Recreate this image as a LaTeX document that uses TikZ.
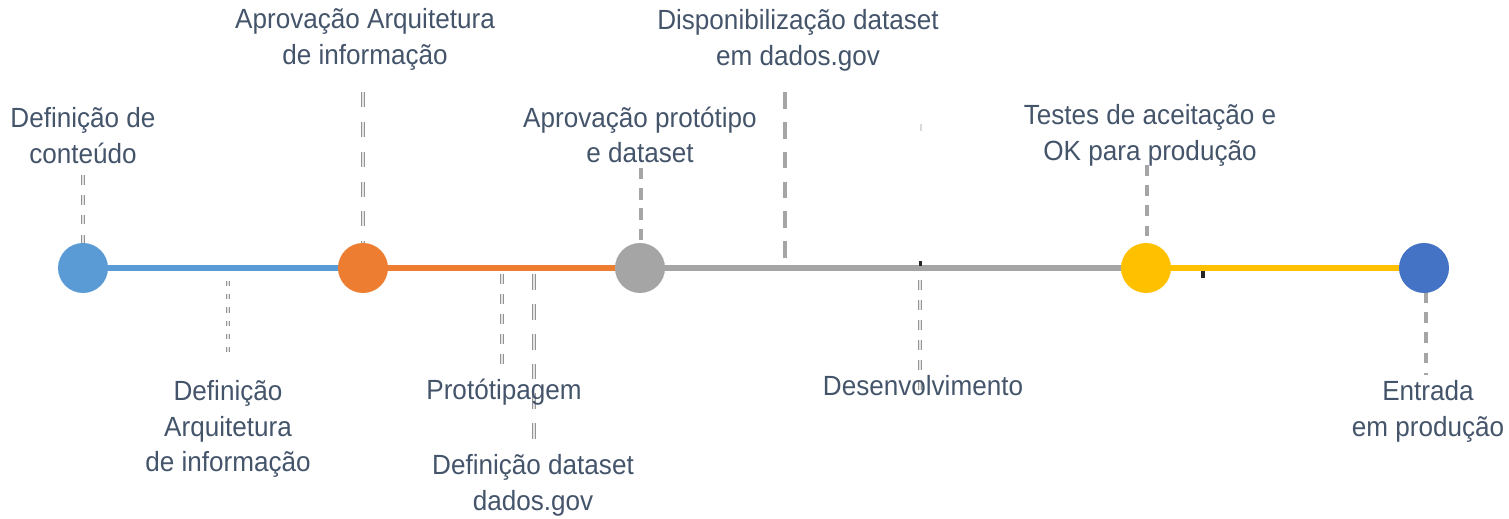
\documentclass[tikz,border=0pt]{standalone}
\usepackage{fontspec}
\setmainfont[FakeStretch=0.94]{Liberation Sans}
\definecolor{txt}{HTML}{44546A}
\definecolor{dgray}{HTML}{A5A5A5}
\definecolor{cblue}{HTML}{5B9BD5}
\definecolor{corange}{HTML}{ED7D31}
\definecolor{cgray}{HTML}{A5A5A5}
\definecolor{cgold}{HTML}{FFC000}
\definecolor{cdblue}{HTML}{4472C4}
\tikzset{
  dot/.style={circle, minimum size=50*0.02cm, inner sep=0pt, fill=#1},
  seg/.style={draw=#1, line width=3.4pt},
  lbl/.style={text=txt, align=center, inner sep=0pt, font=\fontsize{15.8}{20.4}\selectfont},
  sdash/.style={draw=dgray, line width=2.3pt},
  hdash/.style={draw=dgray!90!black, line width=0.75pt, double=dgray!30, double distance=1.0pt},
  hsmall/.style={draw=dgray!90!black, line width=0.65pt, double=dgray!30, double distance=0.8pt},
}
\begin{document}
\begin{tikzpicture}[x=0.02cm, y=-0.02cm]
\useasboundingbox (0,0) rectangle (1509,519);
% coordinates of circles
\coordinate (p1) at (83,268);
\coordinate (p2) at (363,268);
\coordinate (p3) at (640,268);
\coordinate (p4) at (1146,268);
\coordinate (p5) at (1424,268);
% main line segments
\draw[seg=cblue] (p1) -- (p2);
\draw[seg=corange] (p2) -- (p3);
\draw[seg=cgray] (p3) -- (p4);
\draw[seg=cgold] (p4) -- (p5);
% dashed leaders
\coordinate (a1) at (83,175);   \coordinate (b1) at (83,245);
\coordinate (a2) at (363,92);   \coordinate (b2) at (363,245);
\coordinate (a3) at (228,281);  \coordinate (b3) at (228,355);
\coordinate (a4) at (502,274);  \coordinate (b4) at (502,368);
\coordinate (a5) at (534,274);  \coordinate (b5) at (534,445);
\coordinate (a6) at (641,168);  \coordinate (b6) at (641,244);
\coordinate (a7) at (785,92);   \coordinate (b7) at (785,260);
\coordinate (a8) at (920,280);  \coordinate (b8) at (920,398);
\coordinate (a9) at (1147,165); \coordinate (b9) at (1147,240);
\coordinate (a10) at (1426,292); \coordinate (b10) at (1426,375);
\draw[hdash, dash pattern=on 5.5pt off 5.8pt] (a1) -- (b1);
\draw[hdash, dash pattern=on 8.5pt off 8.5pt] (a2) -- (b2);
\draw[hsmall, dash pattern=on 3pt off 4.5pt] (a3) -- (b3);
\draw[hdash, dash pattern=on 5.7pt off 5.7pt] (a4) -- (b4);
\draw[hdash, dash pattern=on 9pt off 8pt] (a5) -- (b5);
\draw[sdash, dash pattern=on 6.5pt off 5pt] (a6) -- (b6);
\draw[sdash, dash pattern=on 9.5pt off 7.5pt] (a7) -- (b7);
\draw[hdash, dash pattern=on 5.7pt off 5.7pt] (a8) -- (b8);
\draw[sdash, dash pattern=on 6pt off 5.5pt] (a9) -- (b9);
\draw[sdash, dash pattern=on 6pt off 5.5pt] (a10) -- (b10);
% small marks
\fill[black!85] (919,261) rectangle (921.5,266);
\fill[gray!30] (920,124) rectangle (922,131);
\fill[black!85] (1200.5,271) rectangle (1205,278);
% circles
\node[dot=cblue] (c1) at (p1) {};
\node[dot=corange] (c2) at (p2) {};
\node[dot=cgray] (c3) at (p3) {};
\node[dot=cgold] (c4) at (p4) {};
\node[dot=cdblue] (c5) at (p5) {};
% labels
\node[lbl] (t1) at (83,136) {Definição de\\conteúdo};
\node[lbl] (t2) at (365,39) {Aprovação Arquitetura\\de informação};
\node[lbl] (t3) at (228,429) {Definição\\Arquitetura\\de informação};
\node[lbl] (t4) at (504,392) {Protótipagem};
\node[lbl] (t5) at (533,485) {Definição dataset\\dados.gov};
\node[lbl] (t6) at (640,135) {Aprovação protótipo\\e dataset};
\node[lbl] (t7) at (798,40) {Disponibilização dataset\\em dados.gov};
\node[lbl] (t8) at (923,386) {Desenvolvimento};
\node[lbl] (t9) at (1150,135) {Testes de aceitação e\\OK para produção};
\node[lbl] (t10) at (1428,411) {Entrada\\em produção};
\end{tikzpicture}
\end{document}
